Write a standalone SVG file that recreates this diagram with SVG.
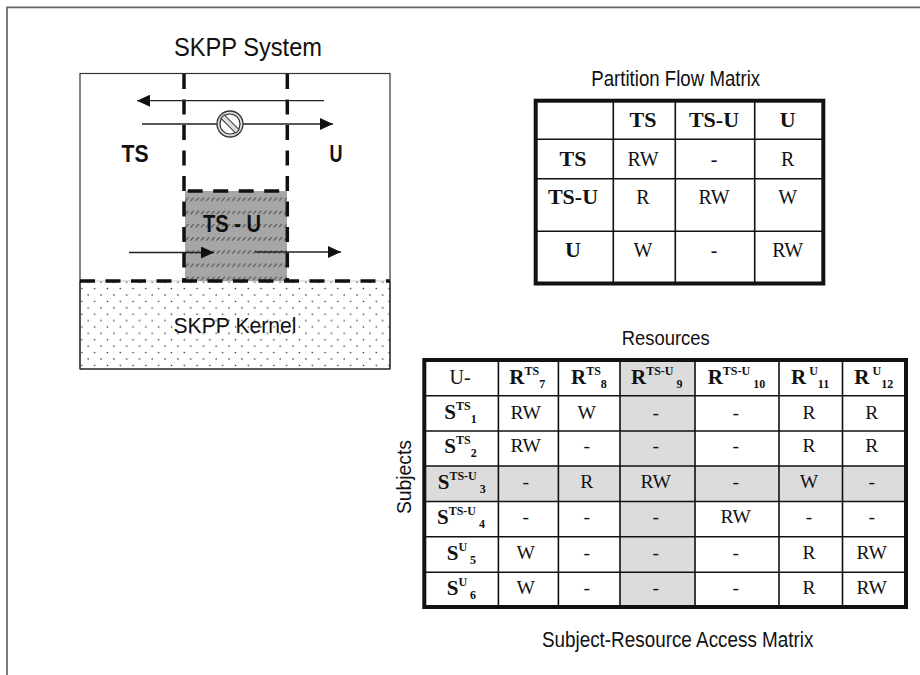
<svg xmlns="http://www.w3.org/2000/svg" width="920" height="675" viewBox="0 0 920 675">
<style>
text{font-family:"Liberation Sans",Arial,sans-serif;fill:#111}
.m{text-anchor:middle}
.lb{font-weight:bold;font-size:24px}
.c{font-family:"Liberation Serif","Times New Roman",serif;font-size:20px;text-anchor:middle}
.cb{font-family:"Liberation Serif","Times New Roman",serif;font-size:22px;font-weight:bold;text-anchor:middle}
.d{font-family:"Liberation Serif","Times New Roman",serif;font-size:19.5px;text-anchor:middle}
.h{font-family:"Liberation Serif","Times New Roman",serif;font-size:21px;font-weight:bold}
.s{font-size:12px}
.cap{font-size:21.4px}
.o{fill:none;stroke:#111;stroke-width:4}
.g{stroke:#111;stroke-width:1.6;fill:none}
.dash{stroke:#111;stroke-width:3.5;fill:none;stroke-dasharray:15 10.5}
.ar{stroke:#222;stroke-width:1.3;fill:none;marker-end:url(#head)}
</style>
<defs>
<marker id="head" markerUnits="userSpaceOnUse" markerWidth="13" markerHeight="12" refX="13" refY="6" orient="auto"><path d="M0 0L13 6L0 12Z" fill="#111"/></marker>
<pattern id="hatch" patternUnits="userSpaceOnUse" x="185" y="197.5" width="5.2" height="13.2"><path d="M0.4 3.4L3.6 0" stroke="#444" stroke-width="1"/></pattern>
<pattern id="dots" patternUnits="userSpaceOnUse" x="87.3" y="294" width="12.8" height="12.8"><circle cx="1" cy="1" r="0.8" fill="#222"/><circle cx="7.4" cy="7.4" r="0.8" fill="#222"/></pattern>
</defs>
<rect width="920" height="675" fill="#fff"/>
<path d="M7 675V7.3H920" fill="none" stroke="#666" stroke-width="1.7"/>
<g id="skpp-system">
<text class="m" x="248" y="56" font-size="25" textLength="148" lengthAdjust="spacingAndGlyphs">SKPP System</text>
<rect x="80" y="73.5" width="310" height="295.5" fill="#fff" stroke="#333" stroke-width="1.2"/>
</g>
<g id="skpp-kernel">
<rect x="80" y="281" width="310" height="88" fill="url(#dots)"/>
<path d="M80 281H390" stroke="#ccc" stroke-width="1"/>
<path d="M80 369H390" stroke="#333" stroke-width="1.2"/>
<path d="M80 281V369M390 281V369" stroke="#333" stroke-width="1.2"/>
<text class="m" x="235" y="332.6" font-size="21.4" textLength="123" lengthAdjust="spacingAndGlyphs">SKPP Kernel</text>
</g>
<g id="partition-ts-u">
<rect x="185" y="191" width="102" height="90" fill="#a6a6a6"/>
<rect x="185" y="191" width="102" height="90" fill="url(#hatch)"/>
<text class="m lb" x="232" y="232" textLength="58" lengthAdjust="spacingAndGlyphs">TS - U</text>
</g>
<g id="partition-ts"><text class="m lb" x="135" y="162" textLength="27" lengthAdjust="spacingAndGlyphs">TS</text></g>
<g id="partition-u"><text class="m lb" x="336" y="162" textLength="13" lengthAdjust="spacingAndGlyphs">U</text></g>
<g id="boundaries">
<path class="dash" d="M184 74V281"/>
<path class="dash" d="M287.3 74V281"/>
<path class="dash" d="M187.7 191H287"/>
<path class="dash" d="M80 281H390"/>
</g>
<g id="connectors">
<path class="ar" d="M324 100.7H137"/>
<path class="ar" d="M142 124H333"/>
<path class="ar" d="M129 252.5H214"/>
<path class="ar" d="M255 252H341"/>
</g>
<g id="prohibited">
<circle cx="230" cy="124" r="13" fill="#ddd" stroke="#333" stroke-width="1.3"/>
<circle cx="230" cy="124" r="10" fill="#fff" stroke="#333" stroke-width="1.2"/>
<rect x="219.5" y="121.6" width="21" height="4.8" fill="#ddd" stroke="#333" stroke-width="1" transform="rotate(45 230 124)"/>
</g>

<g id="partition-flow-matrix">
<text class="m cap" x="675.7" y="86" textLength="169" lengthAdjust="spacingAndGlyphs">Partition Flow Matrix</text>
<rect x="535.7" y="100.7" width="287.6" height="182.8" fill="#fff"/>
<path class="g" d="M613.3 100.7V283.5M675.3 100.7V283.5M754.7 100.7V283.5M535.7 139.3H823.3M535.7 178.7H823.3M535.7 231.3H823.3"/>
<rect class="o" x="535.7" y="100.7" width="287.6" height="182.8"/>
<text class="cb" x="643" y="126.7">TS</text><text class="cb" x="714" y="126.7">TS-U</text><text class="cb" x="787.7" y="126.7">U</text>
<text class="cb" x="573" y="165.7">TS</text><text class="c" x="643" y="165.7">RW</text><text class="c" x="714" y="165.7">-</text><text class="c" x="787.7" y="165.7">R</text>
<text class="cb" x="573" y="204">TS-U</text><text class="c" x="643" y="204">R</text><text class="c" x="714" y="204">RW</text><text class="c" x="787.7" y="204">W</text>
<text class="cb" x="573" y="257">U</text><text class="c" x="643" y="257">W</text><text class="c" x="714" y="257">-</text><text class="c" x="787.7" y="257">RW</text>
</g>

<g id="subject-resource-matrix">
<text class="m" x="665.7" y="345" font-size="20.5" textLength="88" lengthAdjust="spacingAndGlyphs">Resources</text>
<text class="m" x="411" y="477" font-size="21" textLength="74" lengthAdjust="spacingAndGlyphs" transform="rotate(-90 411 477)">Subjects</text>
<text class="m cap" x="677.7" y="646.8" textLength="271.6" lengthAdjust="spacingAndGlyphs">Subject-Resource Access Matrix</text>
<rect x="424.3" y="360" width="481.7" height="247" fill="#fff"/>
<rect x="620" y="360" width="75" height="247" fill="#dcdcdc"/>
<rect x="424.3" y="466" width="481.7" height="35.5" fill="#dcdcdc"/>
<path class="g" d="M498.4 360V607M558.4 360V607M620 360V607M695 360V607M779 360V607M842.5 360V607M424.3 395.7H906M424.3 431H906M424.3 466H906M424.3 501.5H906M424.3 536.7H906M424.3 572.2H906"/>
<rect class="o" x="424.3" y="360" width="481.7" height="247"/>

<text class="d" x="460" y="384" style="font-size:20px">U-</text>
<text class="h" x="509.3" y="384">R<tspan class="s" dy="-9">TS</tspan><tspan class="s" dy="12.5">7</tspan></text>
<text class="h" x="571" y="384">R<tspan class="s" dy="-9">TS</tspan><tspan class="s" dy="12.5">8</tspan></text>
<text class="h" x="631" y="384">R<tspan class="s" dy="-9">TS-U</tspan><tspan class="s" dy="12.5"> 9</tspan></text>
<text class="h" x="707.7" y="384">R<tspan class="s" dy="-9">TS-U</tspan><tspan class="s" dy="12.5"> 10</tspan></text>
<text class="h" x="791" y="384">R<tspan class="s" dy="-9"> U</tspan><tspan class="s" dy="12.5">11</tspan></text>
<text class="h" x="854.3" y="384">R<tspan class="s" dy="-9"> U</tspan><tspan class="s" dy="12.5">12</tspan></text>

<text class="h" x="444.3" y="419">S<tspan class="s" dy="-9">TS</tspan><tspan class="s" dy="12.5">1</tspan></text>
<text class="d" x="525.7" y="419">RW</text><text class="d" x="586.7" y="419">W</text><text class="d" x="655.7" y="419">-</text><text class="d" x="735.7" y="419">-</text><text class="d" x="809" y="419">R</text><text class="d" x="871.7" y="419">R</text>

<text class="h" x="444.3" y="453">S<tspan class="s" dy="-9">TS</tspan><tspan class="s" dy="12.5">2</tspan></text>
<text class="d" x="525.7" y="452">RW</text><text class="d" x="586.7" y="452">-</text><text class="d" x="655.7" y="452">-</text><text class="d" x="735.7" y="452">-</text><text class="d" x="809" y="452">R</text><text class="d" x="871.7" y="452">R</text>

<text class="h" x="437.7" y="489">S<tspan class="s" dy="-9">TS-U</tspan><tspan class="s" dy="12.5"> 3</tspan></text>
<text class="d" x="525.7" y="488">-</text><text class="d" x="586.7" y="488">R</text><text class="d" x="655.7" y="488">RW</text><text class="d" x="735.7" y="488">-</text><text class="d" x="809" y="488">W</text><text class="d" x="871.7" y="488">-</text>

<text class="h" x="437" y="524">S<tspan class="s" dy="-9">TS-U</tspan><tspan class="s" dy="12.5"> 4</tspan></text>
<text class="d" x="525.7" y="523">-</text><text class="d" x="586.7" y="523">-</text><text class="d" x="655.7" y="523">-</text><text class="d" x="735.7" y="523">RW</text><text class="d" x="809" y="523">-</text><text class="d" x="871.7" y="523">-</text>

<text class="h" x="446.7" y="560">S<tspan class="s" dy="-9">U</tspan><tspan class="s" dy="12.5"> 5</tspan></text>
<text class="d" x="525.7" y="559">W</text><text class="d" x="586.7" y="559">-</text><text class="d" x="655.7" y="559">-</text><text class="d" x="735.7" y="559">-</text><text class="d" x="809" y="559">R</text><text class="d" x="871.7" y="559">RW</text>

<text class="h" x="446.7" y="595">S<tspan class="s" dy="-9">U</tspan><tspan class="s" dy="12.5"> 6</tspan></text>
<text class="d" x="525.7" y="594.3">W</text><text class="d" x="586.7" y="594.3">-</text><text class="d" x="655.7" y="594.3">-</text><text class="d" x="735.7" y="594.3">-</text><text class="d" x="809" y="594.3">R</text><text class="d" x="871.7" y="594.3">RW</text>
</g>
</svg>
